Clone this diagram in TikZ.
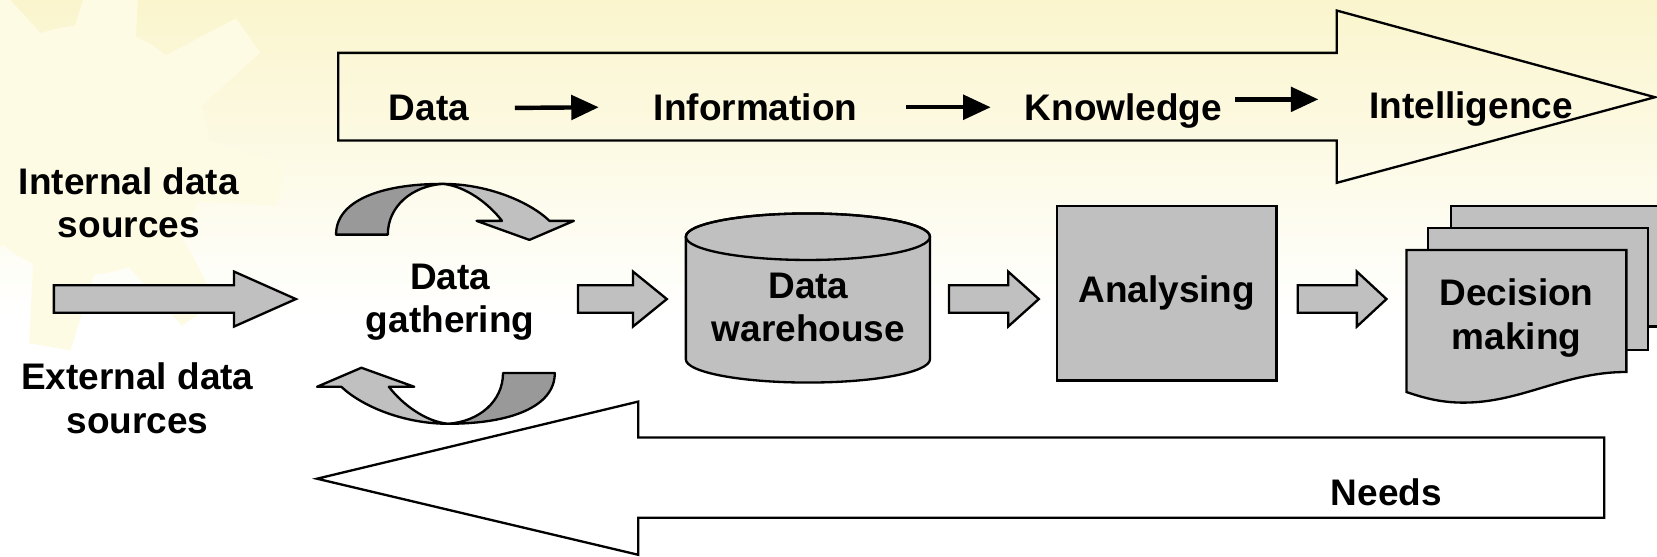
\documentclass[tikz,border=0pt]{standalone}
\usepackage{fontspec}
\setmainfont{Liberation Sans}
\usetikzlibrary{arrows.meta,calc}
\definecolor{lgray}{RGB}{192,192,192}
\definecolor{dgray}{RGB}{153,153,153}
\definecolor{bgyel}{RGB}{250,245,205}
\definecolor{sunyel}{RGB}{254,251,228}
\begin{document}
\begin{tikzpicture}[x=1pt,y=-1pt,
  lbl/.style={font=\fontsize{35}{41}\selectfont\bfseries, inner sep=0pt, align=center},
  outl/.style={draw=black, line width=2.2pt, line join=miter},
  graybox/.style={outl, fill=lgray},
  darkpart/.style={outl, fill=dgray, line join=round},
  lightpart/.style={outl, fill=lgray, line join=round},
  txtarrow/.style={line width=4.2pt, -{Triangle[length=26pt,width=23pt]}},
  pics/barrow/.style 2 args={code={
    \draw[graybox] (0,-13) -- ({#1-#2},-13) -- ({#1-#2},-26) -- (#1,0)
       -- ({#1-#2},26) -- ({#1-#2},13) -- (0,13) -- cycle;}},
]
\useasboundingbox (0,0) rectangle (1568,527);
% background
\shade[top color=bgyel, bottom color=white] (0,0) rectangle (1568,300);
\fill[white] (0,299) rectangle (1568,527);
\begin{scope}
  \clip (0,0) rectangle (1568,527);
  \foreach \a in {10,55,...,325}{
    \fill[sunyel] (80,142) -- ({80+115*cos(\a-15)},{142+115*sin(\a-15)})
       -- ({80+190*cos(\a-6)},{142+190*sin(\a-6)})
       -- ({80+190*cos(\a+6)},{142+190*sin(\a+6)})
       -- ({80+115*cos(\a+15)},{142+115*sin(\a+15)}) -- cycle;
  }
  \fill[sunyel] (80,142) circle (118);
\end{scope}

% top big arrow
\draw[outl] (320,50) -- (1265,50) -- (1265,10) -- (1566,92) -- (1265,173)
  -- (1265,133) -- (320,133) -- cycle;
\node[lbl, anchor=base] (tdata)  at (406,114)  {Data};
\node[lbl, anchor=base] (tinfo)  at (715,114)  {Information};
\node[lbl, anchor=base] (tknow)  at (1063,114) {Knowledge};
\node[lbl, anchor=base] (tintel) at (1392,112) {Intelligence};
\draw[txtarrow] ([xshift=43pt]tdata.east) -- ([xshift=-52pt]tinfo.west);
\draw[txtarrow] ($(tinfo.east)+(46,0)$) -- ($(tinfo.east -| tknow.west)+(-32,0)$);
\draw[txtarrow] ([xshift=12pt,yshift=11pt]tknow.east) -- ([xshift=-48pt,yshift=9pt]tintel.west);

% sources
\node[lbl] (internal) at (122,192) {Internal data\\sources};
\node[lbl] (external) at (130,377) {External data\\sources};
\coordinate (inarrow) at (51,283);
\pic at (inarrow) {barrow={229}{58.5}};

% data gathering with circular arrows
\node[lbl] (gather) at (426,286) {Data\\gathering};
\begin{scope}
  \path[darkpart] (318,222) .. controls (318,190) and (360,174) .. (419,174)
     .. controls (390,176) and (367,195) .. (367,222) -- cycle;
  \path[lightpart] (419,174) .. controls (460,174) and (500,190) .. (520,209)
     -- (543,209) -- (501,227) -- (451,209) -- (475,209)
     .. controls (462,192) and (440,176) .. (419,174) -- cycle;
\end{scope}
\begin{scope}[rotate around={180:(421.5,287.5)}]
  \path[darkpart] (318,222) .. controls (318,190) and (360,174) .. (419,174)
     .. controls (390,176) and (367,195) .. (367,222) -- cycle;
  \path[lightpart] (419,174) .. controls (460,174) and (500,190) .. (520,209)
     -- (543,209) -- (501,227) -- (451,209) -- (475,209)
     .. controls (462,192) and (440,176) .. (419,174) -- cycle;
\end{scope}

% arrow to warehouse
\coordinate (a1) at (547,283);
\pic at (a1) {barrow={84}{32}};

% warehouse cylinder
\path[graybox] (649,224) -- (649,340) arc (180:0:115.5 and 22) -- (880,224)
   arc (0:-180:115.5 and 22) -- cycle;
\draw[outl] (764.5,224) ellipse (115.5 and 22);
\node[lbl] (warehouse) at (765,291) {Data\\warehouse};

% arrow to analysing
\coordinate (a2) at (898,283);
\pic at (a2) {barrow={85}{29}};
\node[graybox, lbl, minimum width=208pt, minimum height=165pt] (analys) at (1104,277.5) {Analysing};

% arrow to decision
\coordinate (a3) at (1228,283);
\pic at (a3) {barrow={84}{28}};

% documents
\path[graybox] (1373,195) -- (1590,195) -- (1590,309) -- (1373,309) -- cycle;
\path[graybox] (1351,216) -- (1559.5,216) -- (1559.5,331) -- (1351,331) -- cycle;
\path[graybox] (1331,236.5) -- (1539,236.5) -- (1539,352)
   .. controls (1480,352) and (1440,381) .. (1385,381)
   .. controls (1362,381) and (1346,376) .. (1331,371) -- cycle;
\node[lbl] (decision) at (1435,301) {Decision\\making};

% bottom big arrow
\draw[outl] (1518,414) -- (604,414) -- (604,380) -- (300,453) -- (604,525)
  -- (604,490) -- (1518,490) -- cycle;
\node[lbl, anchor=base] (needs) at (1312,478) {Needs};
\end{tikzpicture}
\end{document}
